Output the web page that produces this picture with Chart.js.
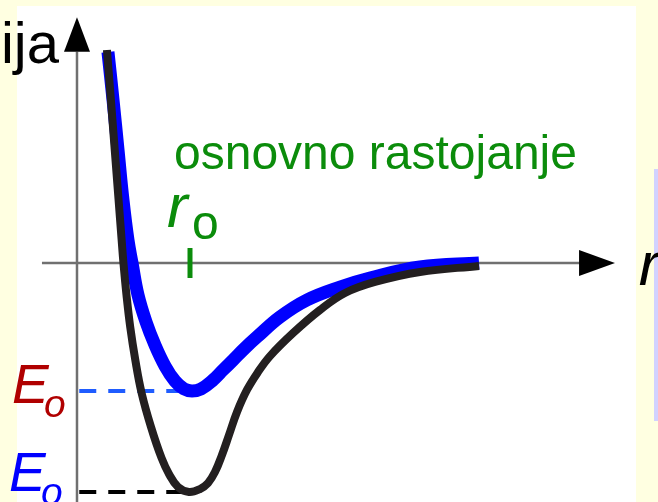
<!DOCTYPE html>
<html lang="sr">
<head>
    <meta charset="UTF-8">
    <title>Potencijalna energija i osnovno rastojanje</title>
    <script src="https://cdn.jsdelivr.net/npm/chart.js"></script>
    <style>
        body {
            margin: 0;
            padding: 0;
            background-color: #ffffe1;
            overflow: hidden;
        }
        #wrap {
            position: relative;
            width: 658px;
            height: 502px;
        }
        #panel {
            position: absolute;
            left: 17px;
            top: 6px;
            width: 619px;
            height: 496px;
            background: #ffffff;
        }
        #side {
            position: absolute;
            left: 654px;
            top: 169px;
            width: 10px;
            height: 252px;
            background: #d2d2ff;
        }
        #energyChart {
            position: absolute;
            left: 0;
            top: 0;
        }
    </style>
</head>
<body>
<div id="wrap">
    <div id="panel"></div>
    <div id="side"></div>
    <canvas id="energyChart" width="658" height="502"></canvas>
</div>

<script>
    // rastojanje r (u jedinicama r0) i energija E (u jedinicama |E0|)
    const rBlue = [0.274, 0.319, 0.363, 0.407, 0.451, 0.487, 0.540, 0.611, 0.690, 0.779, 0.867, 0.947, 1.018,
                   1.097, 1.204, 1.292, 1.381, 1.487, 1.593, 1.796, 2.035, 2.327, 2.593, 3.035, 3.558];
    const eBlue = [1.648, 1.273, 0.883, 0.492, 0.180, 0.0, -0.250, -0.461, -0.641, -0.805, -0.922, -0.984, -1.0,
                   -0.984, -0.914, -0.836, -0.758, -0.664, -0.578, -0.422, -0.289, -0.188, -0.117, -0.031, 0.0];

    const rBlack = [0.265, 0.300, 0.334, 0.368, 0.395, 0.411, 0.438, 0.471, 0.516, 0.572, 0.655, 0.748, 0.814, 0.894, 0.991,
                    1.088, 1.159, 1.221, 1.283, 1.345, 1.416, 1.504, 1.602, 1.708, 1.912, 2.150, 2.372, 2.637, 3.035, 3.558];
    const eBlack = [1.664, 1.273, 0.883, 0.492, 0.180, 0.0, -0.250, -0.500, -0.758, -1.016, -1.281, -1.523, -1.648, -1.750, -1.789,
                    -1.766, -1.719, -1.633, -1.500, -1.344, -1.164, -0.992, -0.852, -0.727, -0.547, -0.367, -0.234, -0.148, -0.070, -0.023];

    const r0 = 1.0;
    const eMinBlue = -1.0;
    const eMinBlack = -1.789;

    const labels = {
        yAxis: 'energija',
        xAxis: 'r',
        distance: 'osnovno rastojanje',
        r0: 'r',
        sub: 'o',
        e0: 'E'
    };

    const toPoints = (xs, ys) => xs.map((x, i) => ({ x: x, y: ys[i] }));

    const FONT = '"Liberation Sans", Arial, sans-serif';
    const GREEN = '#0b8c0b';

    // ose sa strelicama i natpisi
    const decorations = {
        id: 'decorations',
        beforeDatasetsDraw(chart) {
            const ctx = chart.ctx;
            const xs = chart.scales.x;
            const ys = chart.scales.y;
            const x0 = xs.getPixelForValue(0);
            const y0 = ys.getPixelForValue(0);

            ctx.save();
            ctx.strokeStyle = '#707070';
            ctx.lineWidth = 2.5;
            ctx.beginPath();
            ctx.moveTo(x0, chart.height);
            ctx.lineTo(x0, ys.getPixelForValue(1.65));
            ctx.moveTo(xs.getPixelForValue(-0.31), y0);
            ctx.lineTo(xs.getPixelForValue(4.5), y0);
            ctx.stroke();

            // vrhovi strelica
            ctx.fillStyle = '#000000';
            const yTip = ys.getPixelForValue(1.92);
            const yBase = ys.getPixelForValue(1.65);
            ctx.beginPath();
            ctx.moveTo(x0, yTip);
            ctx.lineTo(x0 - 13, yBase);
            ctx.lineTo(x0 + 13, yBase);
            ctx.closePath();
            ctx.fill();

            const xTip = xs.getPixelForValue(4.761);
            const xBase = xs.getPixelForValue(4.443);
            ctx.beginPath();
            ctx.moveTo(xTip, y0);
            ctx.lineTo(xBase, y0 - 13);
            ctx.lineTo(xBase, y0 + 13);
            ctx.closePath();
            ctx.fill();

            // oznaka r0 na osi
            const xr = xs.getPixelForValue(r0);
            ctx.strokeStyle = GREEN;
            ctx.lineWidth = 5;
            ctx.beginPath();
            ctx.moveTo(xr, ys.getPixelForValue(0.117));
            ctx.lineTo(xr, ys.getPixelForValue(-0.117));
            ctx.stroke();
            ctx.restore();
        },
        afterDatasetsDraw(chart) {
            const ctx = chart.ctx;
            const xs = chart.scales.x;
            const ys = chart.scales.y;
            const x0 = xs.getPixelForValue(0);
            const y0 = ys.getPixelForValue(0);
            const xr = xs.getPixelForValue(r0);

            ctx.save();
            ctx.textBaseline = 'alphabetic';

            ctx.fillStyle = '#000000';
            ctx.font = '58px ' + FONT;
            ctx.textAlign = 'right';
            ctx.fillText(labels.yAxis, x0 - 18, 63);

            ctx.textAlign = 'left';
            ctx.font = 'italic 62px ' + FONT;
            ctx.fillText(labels.xAxis, xs.getPixelForValue(4.75) + 25, y0 + 22);

            ctx.fillStyle = GREEN;
            ctx.font = '48px ' + FONT;
            ctx.fillText(labels.distance, xr - 16, 169);
            ctx.font = 'italic 62px ' + FONT;
            ctx.fillText(labels.r0, xr - 23, y0 - 36);
            ctx.font = '48px ' + FONT;
            ctx.fillText(labels.sub, xr + 2, y0 - 24);

            ctx.fillStyle = '#b00000';
            ctx.font = 'italic 55px ' + FONT;
            ctx.fillText(labels.e0, 12, ys.getPixelForValue(eMinBlue) + 12);
            ctx.font = 'italic 39px ' + FONT;
            ctx.fillText(labels.sub, 44, ys.getPixelForValue(eMinBlue) + 26);

            ctx.fillStyle = '#0000ff';
            ctx.font = 'italic 55px ' + FONT;
            ctx.fillText(labels.e0, 9, ys.getPixelForValue(eMinBlack) - 1);
            ctx.font = 'italic 39px ' + FONT;
            ctx.fillText(labels.sub, 41, ys.getPixelForValue(eMinBlack) + 13);
            ctx.restore();
        }
    };

    new Chart(document.getElementById('energyChart'), {
        type: 'line',
        data: {
            datasets: [
                {
                    data: toPoints(rBlack, eBlack),
                    borderColor: '#231f20',
                    borderWidth: 8,
                    tension: 0.4,
                    borderCapStyle: 'butt',
                    borderJoinStyle: 'round',
                    pointRadius: 0,
                    order: 1
                },
                {
                    data: toPoints(rBlue, eBlue),
                    borderColor: '#0000ff',
                    borderWidth: 13,
                    tension: 0.4,
                    borderCapStyle: 'butt',
                    borderJoinStyle: 'round',
                    pointRadius: 0,
                    order: 2
                },
                {
                    data: [{ x: 0.02, y: eMinBlue }, { x: 0.95, y: eMinBlue }],
                    borderColor: '#1f5cff',
                    borderWidth: 4,
                    borderDash: [17, 12],
                    pointRadius: 0,
                    order: 3
                },
                {
                    data: [{ x: 0.02, y: eMinBlack }, { x: 0.95, y: eMinBlack }],
                    borderColor: '#000000',
                    borderWidth: 4,
                    borderDash: [17, 12],
                    pointRadius: 0,
                    order: 3
                }
            ]
        },
        options: {
            responsive: false,
            animation: false,
            devicePixelRatio: 1,
            layout: { padding: 0, autoPadding: false },
            plugins: {
                legend: { display: false },
                tooltip: { enabled: false }
            },
            scales: {
                x: { type: 'linear', display: false, min: -0.6814, max: 5.1416 },
                y: { type: 'linear', display: false, min: -1.8672, max: 2.0547 }
            }
        },
        plugins: [decorations]
    });
</script>
</body>
</html>
